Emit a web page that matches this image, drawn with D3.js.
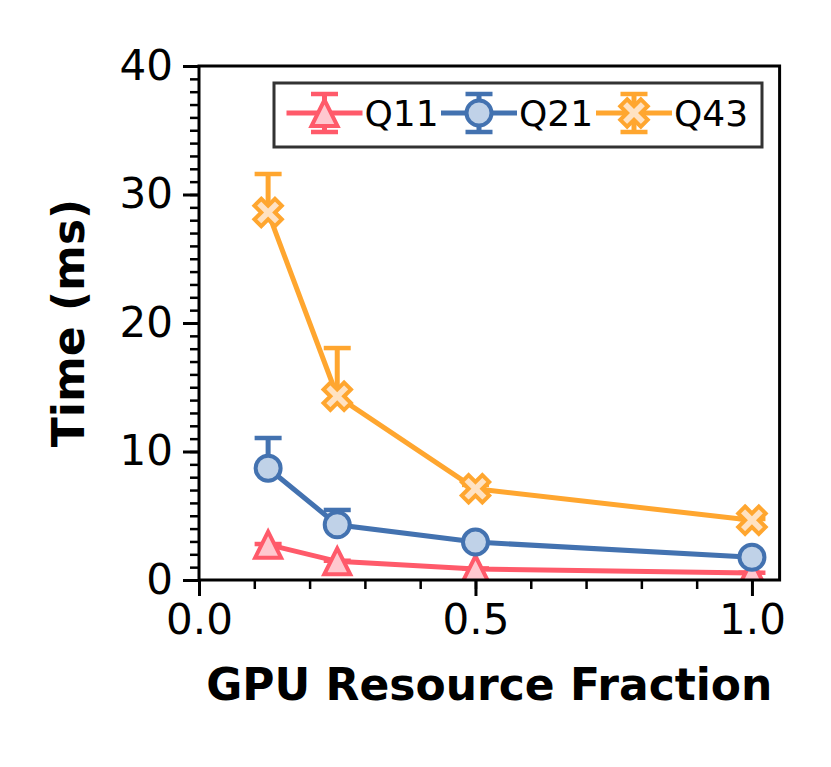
<!DOCTYPE html>
<html>
<head>
<meta charset="utf-8">
<script src="https://d3js.org/d3.v7.min.js"></script>
<style>
  body { margin: 0; background: #fff; }
  text { font-family: "DejaVu Sans", sans-serif; }
</style>
</head>
<body>
<div id="chart"></div>
<script>
// chart values
var fractions = [0.125, 0.25, 0.5, 1.0];
var seriesNames = ["Q11", "Q21", "Q43"];
var q11 = [2.75, 1.45, 0.85, 0.55];
var q11Err = [0.05, 0.05, 0.05, 0.02];
var q21 = [8.7, 4.3, 2.95, 1.77];
var q21Err = [2.35, 1.15, 0.2, 0.1];
var q43 = [28.6, 14.3, 7.1, 4.65];
var q43Err = [3.0, 3.75, 0.3, 0.1];
var xTicks = [0.0, 0.5, 1.0];
var yTicks = [0, 10, 20, 30, 40];

var w = 831, h = 767;
// plot box (note: "top" is taken by window.top)
var pLeft = 199, pRight = 779.6, pTop = 66, pBottom = 580;

var svg = d3.select("#chart").append("svg")
	.attr("width", w)
	.attr("height", h);

var x = d3.scaleLinear().domain([0, 1.05]).range([pLeft, pRight]);
var y = d3.scaleLinear().domain([0, 40]).range([pBottom, pTop]);

var series = [
	{name: seriesNames[0], vals: q11, err: q11Err, color: "#ff5a6a", fill: "#ffc8cf", shape: "tri"},
	{name: seriesNames[1], vals: q21, err: q21Err, color: "#4372b0", fill: "#c0d2e8", shape: "circle"},
	{name: seriesNames[2], vals: q43, err: q43Err, color: "#ffa62f", fill: "#ffe2c2", shape: "x"}
];

// marker shapes
function markerPath(shape) {
	if (shape == "tri") return "M0,-13L-13,13L13,13Z";
	if (shape == "circle") return d3.symbol().type(d3.symbolCircle).size(Math.PI * 12.5 * 12.5)();
	return d3.symbol().type(d3.symbolCross).size(470)();
}
function drawMarker(g, s, cx, cy) {
	g.append("path")
		.attr("d", markerPath(s.shape))
		.attr("transform", "translate(" + cx + "," + cy + ")" + (s.shape == "x" ? " rotate(45)" : ""))
		.attr("fill", s.fill)
		.attr("stroke", s.color)
		.attr("stroke-width", 4)
		.attr("stroke-linejoin", "miter");
}

svg.append("clipPath").attr("id", "plotclip")
	.append("rect").attr("x", pLeft).attr("y", pTop)
	.attr("width", pRight - pLeft).attr("height", pBottom - pTop);

var plot = svg.append("g").attr("clip-path", "url(#plotclip)");

var line = d3.line()
	.x(function(d, i) { return x(fractions[i]); })
	.y(function(d) { return y(d); });

series.forEach(function(s) {
	var g = plot.append("g");
	// upper error bars only
	s.vals.forEach(function(v, i) {
		var cx = x(fractions[i]);
		g.append("line")
			.attr("x1", cx).attr("x2", cx)
			.attr("y1", y(v)).attr("y2", y(v + s.err[i]))
			.attr("stroke", s.color).attr("stroke-width", 5);
		g.append("line")
			.attr("x1", cx - 13.5).attr("x2", cx + 13.5)
			.attr("y1", y(v + s.err[i])).attr("y2", y(v + s.err[i]))
			.attr("stroke", s.color).attr("stroke-width", 4.5);
	});
	g.append("path")
		.attr("d", line(s.vals))
		.attr("fill", "none")
		.attr("stroke", s.color)
		.attr("stroke-width", 5);
	s.vals.forEach(function(v, i) {
		drawMarker(g, s, x(fractions[i]), y(v));
	});
});

// axes
var xAxis = d3.axisBottom(x).tickValues(xTicks).tickSize(16).tickPadding(8)
	.tickFormat(d3.format(".1f"));
var xMinor = d3.axisBottom(x).tickValues(d3.range(1, 10).map(function(d) { return d / 10; }))
	.tickSize(9).tickFormat("");
var yAxis = d3.axisLeft(y).tickValues(yTicks).tickSize(16).tickPadding(10);
var yMinor = d3.axisLeft(y).tickValues(d3.range(1, 40)).tickSize(9).tickFormat("");

function styleAxis(g, sw) {
	g.select(".domain").remove();
	g.selectAll(".tick line").attr("stroke", "#000").attr("stroke-width", sw);
	g.selectAll(".tick text").attr("fill", "#000")
		.style("font-family", "DejaVu Sans").style("font-size", "42px");
}

svg.append("g").attr("transform", "translate(0," + pBottom + ")").call(xMinor).call(styleAxis, 2.5);
svg.append("g").attr("transform", "translate(0," + pBottom + ")").call(xAxis).call(styleAxis, 3);
svg.append("g").attr("transform", "translate(" + pLeft + ",0)").call(yMinor).call(styleAxis, 2.5);
svg.append("g").attr("transform", "translate(" + pLeft + ",0)").call(yAxis).call(styleAxis, 3);

// frame
svg.append("rect")
	.attr("x", pLeft).attr("y", pTop)
	.attr("width", pRight - pLeft).attr("height", pBottom - pTop)
	.attr("fill", "none").attr("stroke", "#000").attr("stroke-width", 3);

// axis labels
svg.append("text")
	.attr("x", (pLeft + pRight) / 2).attr("y", 700)
	.attr("text-anchor", "middle")
	.style("font-size", "44px").style("font-weight", "bold")
	.text("GPU Resource Fraction");

svg.append("text")
	.attr("transform", "translate(84," + (pTop + pBottom) / 2 + ") rotate(-90)")
	.attr("text-anchor", "middle")
	.style("font-size", "44px").style("font-weight", "bold")
	.text("Time (ms)");

// legend
var legend = svg.append("g");
legend.append("rect")
	.attr("x", 274).attr("y", 83).attr("width", 488).attr("height", 64)
	.attr("fill", "#fff").attr("stroke", "#333").attr("stroke-width", 3);

var legendX = [324.5, 479, 634];
series.forEach(function(s, i) {
	var cx = legendX[i], cy = 113;
	var g = legend.append("g");
	g.append("line").attr("x1", cx - 38).attr("x2", cx + 38).attr("y1", cy).attr("y2", cy)
		.attr("stroke", s.color).attr("stroke-width", 5);
	g.append("line").attr("x1", cx).attr("x2", cx).attr("y1", cy - 19).attr("y2", cy + 19)
		.attr("stroke", s.color).attr("stroke-width", 5);
	[-19, 19].forEach(function(dy) {
		g.append("line").attr("x1", cx - 13.5).attr("x2", cx + 13.5)
			.attr("y1", cy + dy).attr("y2", cy + dy)
			.attr("stroke", s.color).attr("stroke-width", 4.5);
	});
	drawMarker(g, s, cx, cy);
	g.append("text")
		.attr("x", cx + 40).attr("y", cy + 12.5)
		.style("font-size", "36px")
		.text(s.name);
});
</script>
</body>
</html>
